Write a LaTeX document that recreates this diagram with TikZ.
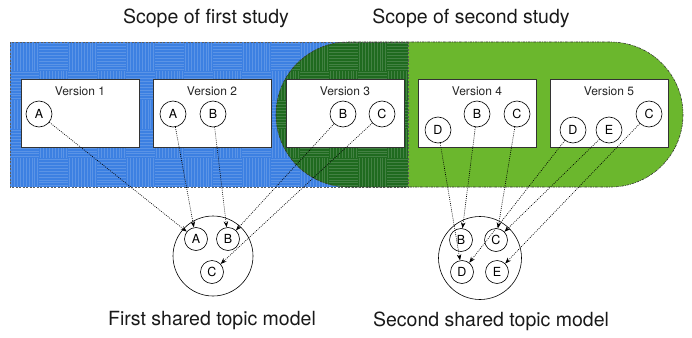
\documentclass[tikz,border=0pt]{standalone}
\usepackage{fontspec}
\setmainfont{TeX Gyre Heros}
\usetikzlibrary{arrows.meta}
\definecolor{bluefill}{HTML}{3C80E2}
\definecolor{darkgreen}{HTML}{1F6A1F}
\definecolor{lightgreen}{HTML}{6BB72D}
\definecolor{edgegray}{HTML}{333333}
\begin{document}
\begin{tikzpicture}[x=1pt,y=-1pt,
  vbox/.style={draw=edgegray, fill=white, line width=0.8pt, minimum width=118pt, minimum height=68pt, anchor=north west, inner sep=0pt},
  vtitle/.style={font=\fontsize{12}{12}\selectfont, text=black!85, inner sep=0pt},
  vc/.style={circle, draw=black, fill=white, minimum size=26pt, inner sep=0pt, line width=0.6pt, font=\fontsize{12.5}{12.5}\selectfont},
  mc/.style={circle, draw=black, fill=white, minimum size=23pt, inner sep=0pt, line width=0.6pt, font=\fontsize{12.5}{12.5}\selectfont},
  bigc/.style={circle, draw=black, line width=0.6pt, inner sep=0pt},
  conn/.style={dash pattern=on 0.9pt off 1.2pt, line width=0.65pt, -{Stealth[length=6pt,width=4.5pt]}},
  pat/.style={white, opacity=0.16, line width=0.45pt},
  lbl/.style={font=\fontsize{19.5}{19.5}\selectfont, text=black!90, inner sep=0pt}
]
\useasboundingbox (0,0) rectangle (692,337);

% regions
\fill[bluefill] (10,42) rectangle (408,187);
\fill[lightgreen, rounded corners=72.5pt] (276,42) rectangle (683,187);
\begin{scope}
  \clip (10,42) rectangle (408,187);
  \clip[rounded corners=72.5pt] (276,42) rectangle (683,187);
  \fill[darkgreen] (10,42) rectangle (408,187);
\end{scope}
\begin{scope}
  \clip (10,42) rectangle (408,187);
  \foreach \i in {0,...,13} {
    \foreach \j in {0,...,4} {
      \pgfmathtruncatemacro\pp{mod(\i+\j,2)}
      \ifnum\pp=0
        \foreach \k in {1,...,10} \draw[pat] ({10+29*\i+2.9*\k-1.45},{42+29*\j}) -- ++(0,29);
      \else
        \foreach \k in {1,...,10} \draw[pat] ({10+29*\i},{42+29*\j+2.9*\k-1.45}) -- ++(29,0);
      \fi
    }
  }
\end{scope}
\draw[edgegray!80, line width=0.6pt, dash pattern=on 2pt off 1.5pt] (10,42) rectangle (408,187);
\draw[edgegray, line width=0.6pt, dash pattern=on 2.5pt off 1pt on 0.8pt off 1pt, rounded corners=72.5pt] (276,42) rectangle (683,187);

% labels
\node[lbl] (s1) at (206,18) {Scope of first study};
\node[lbl] (s2) at (471,18) {Scope of second study};
\node[lbl] (f1) at (212,321) {First shared topic model};
\node[lbl] (f2) at (491,321) {Second shared topic model};

% version boxes
\node[vbox] (b1) at (21,79) {};
\node[vbox] (b2) at (153,79) {};
\node[vbox] (b3) at (286,79) {};
\node[vbox] (b4) at (418,79) {};
\node[vbox] (b5) at (550,79) {};
\node[vtitle] (t1) at (80,91) {Version 1};
\node[vtitle] (t2) at (212,91) {Version 2};
\node[vtitle] (t3) at (345,91) {Version 3};
\node[vtitle] (t4) at (477,91) {Version 4};
\node[vtitle] (t5) at (609,91) {Version 5};

% version circles
\node[vc] (v1a) at (39,114) {A};
\node[vc] (v2a) at (173,114) {A};
\node[vc] (v2b) at (213,114) {B};
\node[vc] (v3b) at (343,114) {B};
\node[vc] (v3c) at (382,114) {C};
\node[vc] (v4d) at (438,130) {D};
\node[vc] (v4b) at (477,114) {B};
\node[vc] (v4c) at (517,114) {C};
\node[vc] (v5d) at (573,130) {D};
\node[vc] (v5e) at (609,130) {E};
\node[vc] (v5c) at (649,114) {C};

% shared models
\node[bigc, minimum size=80pt] (m1) at (213,256) {};
\node[mc] (m1a) at (196,239) {A};
\node[mc] (m1b) at (228,239) {B};
\node[mc] (m1c) at (212,272) {C};

\node[bigc, minimum size=83pt] (m2) at (480,258) {};
\node[mc] (m2b) at (461,240) {B};
\node[mc] (m2c) at (496,240) {C};
\node[mc] (m2d) at (462,272) {D};
\node[mc] (m2e) at (497,272) {E};

% connectors
\draw[conn] (v1a) -- (m1a);
\draw[conn] (v2a) -- (m1a);
\draw[conn] (v2b) -- (m1b);
\draw[conn] (v3b) -- (m1b);
\draw[conn] (v3c) -- (m1c);

\draw[conn] (v4d) -- (m2d);
\draw[conn] (v4b) -- (m2b);
\draw[conn] (v4c) -- (m2c);
\draw[conn] (v5d) -- (m2d);
\draw[conn] (v5e) -- (m2c);
\draw[conn] (v5c) -- (m2e);
\end{tikzpicture}
\end{document}
